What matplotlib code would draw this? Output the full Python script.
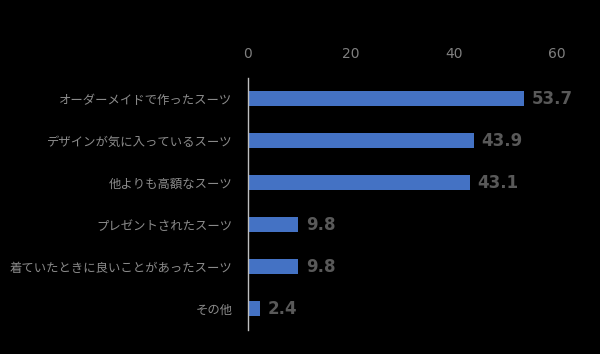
import matplotlib.pyplot as plt

plt.rcParams['font.family'] = ['Noto Sans CJK JP', 'DejaVu Sans']

categories = ['オーダーメイドで作ったスーツ', 'デザインが気に入っているスーツ', '他よりも高額なスーツ',
              'プレゼントされたスーツ', '着ていたときに良いことがあったスーツ', 'その他']
values = [53.7, 43.9, 43.1, 9.8, 9.8, 2.4]
ticks = [0, 20, 40, 60]

fig = plt.figure(figsize=(6, 3.54), dpi=100, facecolor='black')
ax = fig.add_axes([0.413, 0.068, 0.515, 0.712], facecolor='black')

ypos = list(range(len(categories)))
ax.barh(ypos, values, height=0.36, color='#4472C4')
ax.set_ylim(len(categories) - 0.5, -0.5)
ax.set_xlim(0, 60)

ax.set_yticks(ypos)
ax.set_yticklabels(categories, fontsize=8.9, color='#8c8c8c')
ax.set_xticks(ticks)
ax.set_xticklabels([str(t) for t in ticks], fontsize=10, color='#7f7f7f', family='DejaVu Sans')
ax.xaxis.tick_top()
ax.tick_params(axis='y', length=0, pad=11)
ax.tick_params(axis='x', length=0, pad=12)

for s in ['top', 'right', 'bottom']:
    ax.spines[s].set_visible(False)
ax.spines['left'].set_color('#bfbfbf')
ax.spines['left'].set_linewidth(1)

for y, v in zip(ypos, values):
    ax.text(v + 1.5, y, f'{v:.1f}', va='center', ha='left', fontsize=12,
            color='#595959', fontweight='bold', family='DejaVu Sans', clip_on=False)

fig.savefig('out.png', dpi=100, facecolor='black')
